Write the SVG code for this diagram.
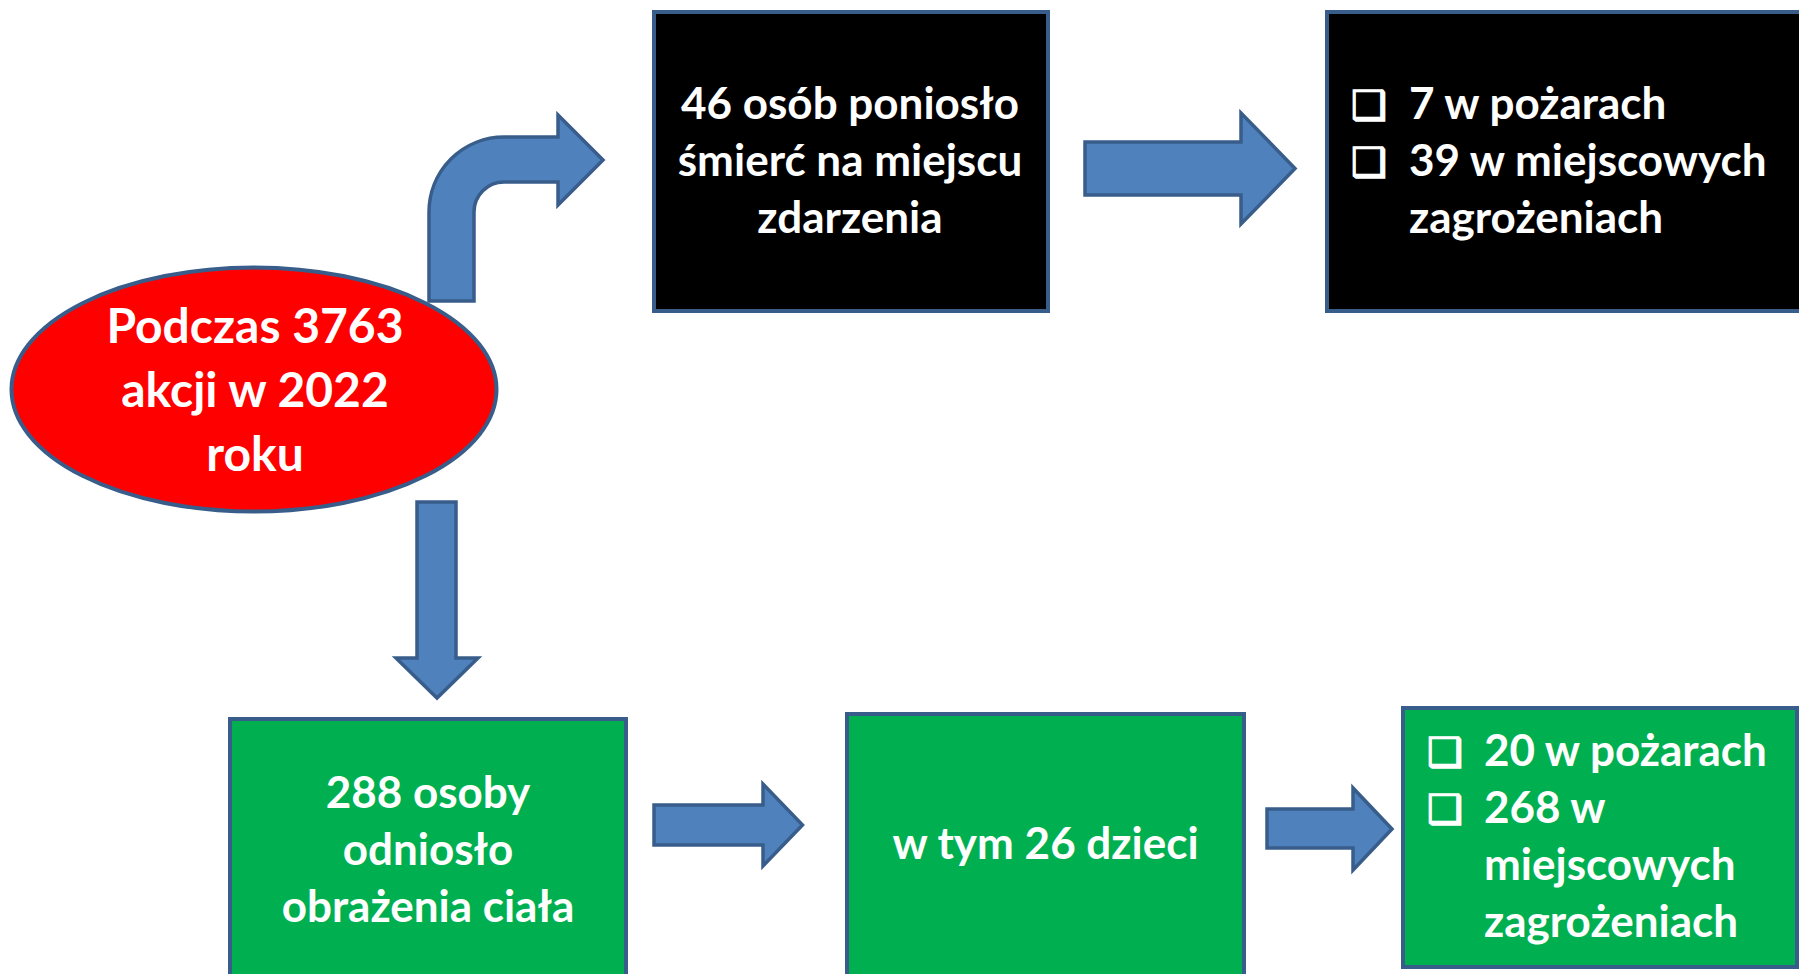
<svg xmlns="http://www.w3.org/2000/svg" width="1799" height="974" viewBox="0 0 1799 974">
<style>
.box{stroke:#385D8A;stroke-width:4}
.blk{fill:#000000}
.grn{fill:#00B050}
.arr{fill:#4F81BD;stroke:#385D8A;stroke-width:3.5;stroke-linejoin:miter}
.t{font-family:Lato,"Liberation Sans",sans-serif;font-weight:bold;fill:#FFFFFF;font-size:44px}
.c{text-anchor:middle}
.b{font-family:"DejaVu Sans",sans-serif;font-size:40px;fill:#FFFFFF;stroke:#FFFFFF;stroke-width:1.5}
</style>
<rect width="1799" height="974" fill="#FFFFFF"/>
<g id="connectors">
<path class="arr" d="M429,301 L429,212 A75,75 0 0 1 504,137 L558,137 L558,115 L603,160 L558,205 L558,182 L504,182 A30,30 0 0 0 474,212 L474,301 Z"/>
<polygon class="arr" points="1085,142 1241,142 1241,113 1295,168.5 1241,224 1241,195 1085,195"/>
<polygon class="arr" points="417,502 456,502 456,658 478,658 437,698 396,658 417,658"/>
<polygon class="arr" points="654,805 763,805 763,784 802.5,825 763,866 763,845 654,845"/>
<polygon class="arr" points="1267,809 1353,809 1353,788 1392,829 1353,870 1353,848 1267,848"/>
</g>
<g id="node-start">
<ellipse cx="254" cy="389.5" rx="242.5" ry="122" fill="#FF0000" class="box"/>
<text class="t c" x="255" y="343" style="font-size:48px">Podczas 3763</text>
<text class="t c" x="255" y="407" style="font-size:48px">akcji w 2022</text>
<text class="t c" x="255" y="471" style="font-size:48px">roku</text>
</g>
<g id="node-deaths">
<rect class="box blk" x="654" y="12" width="394" height="299"/>
<text class="t c" x="850" y="119">46 osób poniosło</text>
<text class="t c" x="850" y="176">śmierć na miejscu</text>
<text class="t c" x="850" y="233">zdarzenia</text>
</g>
<g id="node-deaths-split">
<rect class="box blk" x="1327" y="12" width="490" height="299"/>
<text class="b" x="1351" y="119">❑</text>
<text class="t" x="1409" y="119">7 w pożarach</text>
<text class="b" x="1351" y="176">❑</text>
<text class="t" x="1409" y="176">39 w miejscowych</text>
<text class="t" x="1409" y="233">zagrożeniach</text>
</g>
<g id="node-injured">
<rect class="box grn" x="230" y="719" width="396" height="270"/>
<text class="t c" x="428" y="808">288 osoby</text>
<text class="t c" x="428" y="865">odniosło</text>
<text class="t c" x="428" y="922">obrażenia ciała</text>
</g>
<g id="node-children">
<rect class="box grn" x="847" y="714" width="397" height="275"/>
<text class="t c" x="1045.5" y="859">w tym 26 dzieci</text>
</g>
<g id="node-injured-split">
<rect class="box grn" x="1403" y="708" width="394" height="259"/>
<text class="b" x="1427" y="766">❑</text>
<text class="t" x="1484" y="766">20 w pożarach</text>
<text class="b" x="1427" y="823">❑</text>
<text class="t" x="1484" y="823">268 w</text>
<text class="t" x="1484" y="880">miejscowych</text>
<text class="t" x="1484" y="937">zagrożeniach</text>
</g>
</svg>
